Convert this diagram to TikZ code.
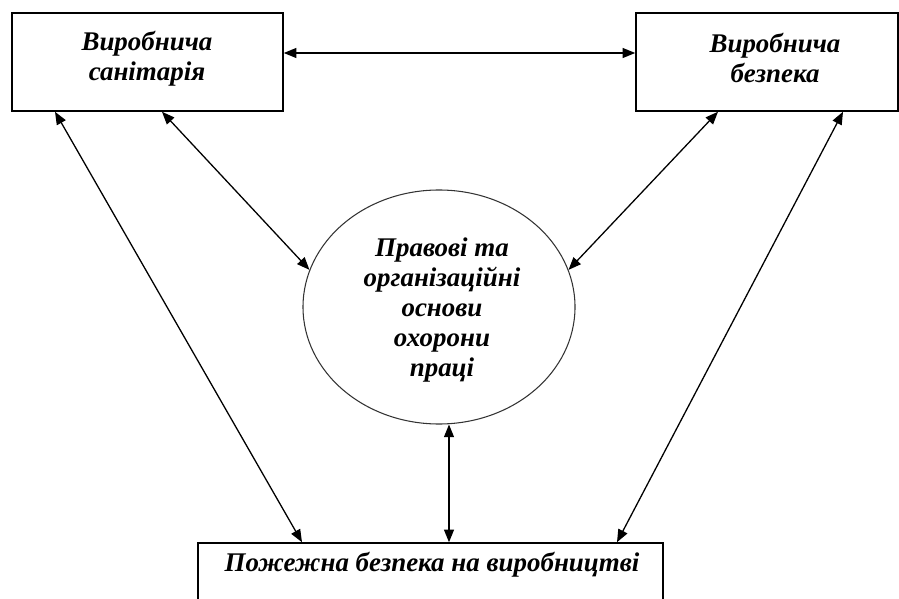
\documentclass[tikz,border=0pt]{standalone}
\usepackage{fontspec}
\setmainfont{Liberation Serif}
\usetikzlibrary{shapes.geometric,arrows.meta}
\begin{document}
\begin{tikzpicture}[x=0.03cm,y=-0.03cm,
  boxs/.style={draw,line width=1.3pt,inner sep=0pt},
  lbl/.style={font=\fontsize{23}{25.6}\selectfont\bfseries\itshape,align=center,inner sep=0pt},
  link/.style={line width=1.1pt,{Triangle[length=0.38cm,width=0.3cm]}-{Triangle[length=0.38cm,width=0.3cm]}}]
\useasboundingbox (0,0) rectangle (899,599);
\clip (0,0) rectangle (899,599);
\fill[white] (0,0) rectangle (899,599);
\node[boxs,minimum width=8.13cm,minimum height=2.94cm] (tl) at (147.5,62) {};
\node[lbl] (tlt) at (147,59) {Виробнича\\санітарія};
\node[boxs,minimum width=7.86cm,minimum height=2.94cm] (tr) at (767,62) {};
\node[lbl] (trt) at (775,58) {Виробнича\\безпека};
\node[ellipse,draw,black!80,line width=0.9pt,minimum width=8.16cm,minimum height=7.02cm,inner sep=0pt] (ell) at (439,307) {};
\node[lbl] (ellt) at (442,310) {Правові та\\організаційні\\основи\\охорони\\праці};
\node[boxs,minimum width=13.95cm,minimum height=2.31cm] (bot) at (430.5,581.5) {};
\node[lbl] (bott) at (432,565) {Пожежна безпека на виробництві};
\draw[link] (tl.east |- 0,53) -- (tr.west |- 0,53);
\draw[link] (tl.south -| 55,0) -- (bot.north -| 302,0);
\draw[link] (tl.south -| 162,0) -- (ell.164);
\draw[link] (tr.south -| 718,0) -- (ell.16);
\draw[link] (tr.south -| 843,0) -- (bot.north -| 617,0);
\draw[link] (ell.south -| 449,0) -- (bot.north -| 449,0);
\end{tikzpicture}
\end{document}
